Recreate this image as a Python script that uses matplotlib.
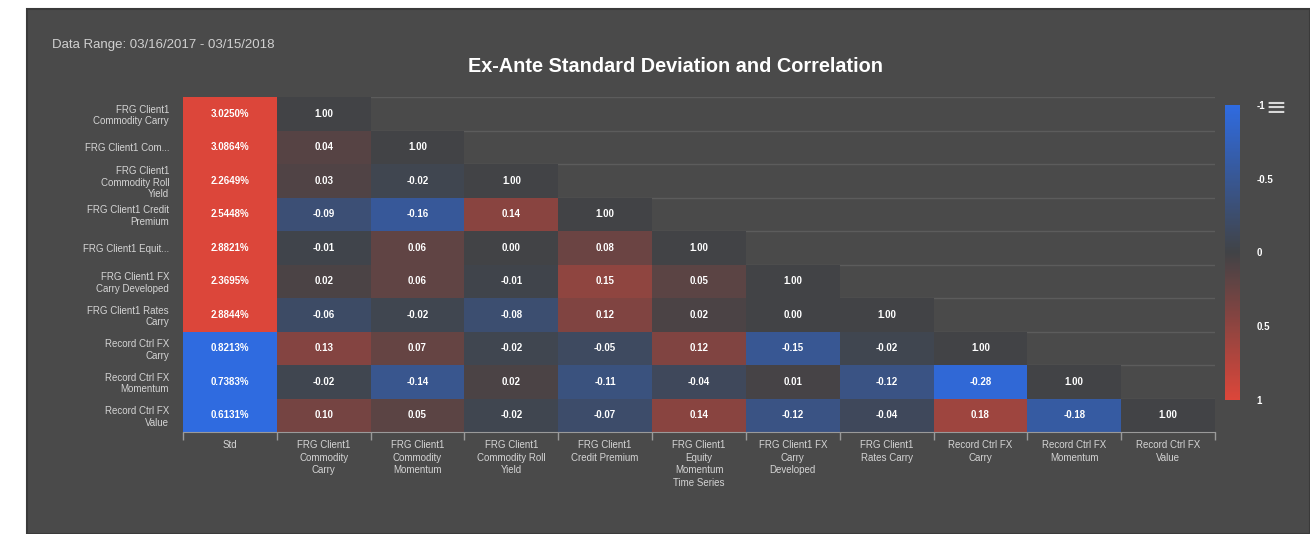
import numpy as np
import matplotlib
matplotlib.use('Agg')
import matplotlib.pyplot as plt
from matplotlib.colors import LinearSegmentedColormap, Normalize, TwoSlopeNorm
from matplotlib.cm import ScalarMappable
from matplotlib.patches import Rectangle

plt.rcParams['font.family'] = ['Liberation Sans', 'DejaVu Sans']

# Row labels (as truncated / wrapped in the chart)
row_labels = [
    "FRG Client1\nCommodity Carry",
    "FRG Client1 Com...",
    "FRG Client1\nCommodity Roll\nYield",
    "FRG Client1 Credit\nPremium",
    "FRG Client1 Equit...",
    "FRG Client1 FX\nCarry Developed",
    "FRG Client1 Rates\nCarry",
    "Record Ctrl FX\nCarry",
    "Record Ctrl FX\nMomentum",
    "Record Ctrl FX\nValue",
]

col_labels = [
    "Std",
    "FRG Client1\nCommodity\nCarry",
    "FRG Client1\nCommodity\nMomentum",
    "FRG Client1\nCommodity Roll\nYield",
    "FRG Client1\nCredit Premium",
    "FRG Client1\nEquity\nMomentum\nTime Series",
    "FRG Client1 FX\nCarry\nDeveloped",
    "FRG Client1\nRates Carry",
    "Record Ctrl FX\nCarry",
    "Record Ctrl FX\nMomentum",
    "Record Ctrl FX\nValue",
]

# ex-ante std, in percent
std_values = [3.0250, 3.0864, 2.2649, 2.5448, 2.8821, 2.3695, 2.8844, 0.8213, 0.7383, 0.6131]

# lower triangle of the correlation matrix, row by row
corr_rows = [
    [1.00],
    [0.04, 1.00],
    [0.03, -0.02, 1.00],
    [-0.09, -0.16, 0.14, 1.00],
    [-0.01, 0.06, 0.00, 0.08, 1.00],
    [0.02, 0.06, -0.01, 0.15, 0.05, 1.00],
    [-0.06, -0.02, -0.08, 0.12, 0.02, 0.00, 1.00],
    [0.13, 0.07, -0.02, -0.05, 0.12, -0.15, -0.02, 1.00],
    [-0.02, -0.14, 0.02, -0.11, -0.04, 0.01, -0.12, -0.28, 1.00],
    [0.10, 0.05, -0.02, -0.07, 0.14, -0.12, -0.04, 0.18, -0.18, 1.00],
]

cbar_ticks = [-1, -0.5, 0, 0.5, 1]

# --- styling
W, H = 1310, 534
panel = '#4a4a4a'
cmap = LinearSegmentedColormap.from_list('bgr', ['#2f6be0', '#414346', '#dc463a'])
cmap.set_bad((0, 0, 0, 0))

n = len(row_labels)
corr = np.full((n, n), np.nan)
for i, r in enumerate(corr_rows):
    corr[i, :len(r)] = r
# diagonal is not coloured in the original
corr_col = np.where(np.eye(n, dtype=bool), 0.0, corr)
corr_col = np.ma.masked_invalid(corr_col)

fig = plt.figure(figsize=(W / 100, H / 100), dpi=100, facecolor='white')
bg = Rectangle((27 / W, 0), 1 - 27 / W, 1 - 9 / H, transform=fig.transFigure,
               facecolor=panel, edgecolor='#3a3a3a', lw=1.5, zorder=-10)
fig.patches.append(bg)

ax = fig.add_axes([183 / W, 1 - 432 / H, (1215 - 183) / W, (432 - 97) / H], zorder=2)
ax.patch.set_alpha(0)

# faint grid lines behind the cells
for y in range(n + 1):
    ax.axhline(y, color='#5c5c5c', lw=1, zorder=0)

std_norm = TwoSlopeNorm(vcenter=1.5, vmin=0.9, vmax=2.1)
std_arr = np.array(std_values)[:, None]
ax.pcolormesh(np.arange(0, 2), np.arange(n + 1), std_arr, cmap=cmap, norm=std_norm, zorder=1)

corr_norm = Normalize(-0.3, 0.3)
ax.pcolormesh(np.arange(1, n + 2), np.arange(n + 1), corr_col, cmap=cmap, norm=corr_norm, zorder=1)

for i, v in enumerate(std_values):
    ax.text(0.5, i + 0.5, f"{v:.4f}%", ha='center', va='center', color='white',
            fontsize=7, fontweight='bold', zorder=3)
for i, r in enumerate(corr_rows):
    for j, v in enumerate(r):
        ax.text(j + 1.5, i + 0.5, f"{v:.2f}", ha='center', va='center', color='white',
                fontsize=7, fontweight='bold', zorder=3)

ax.set_xlim(0, n + 1)
ax.set_ylim(n, 0)
ax.set_yticks(np.arange(n) + 0.5)
ax.set_yticklabels(row_labels, fontsize=7, color='#d4d4d4', linespacing=1.2)
ax.tick_params(axis='y', length=0, pad=10)
ax.set_xticks(np.arange(n + 1) + 0.5)
ax.set_xticklabels(col_labels, fontsize=7, color='#d4d4d4', linespacing=1.3)
ax.set_xticks(np.arange(n + 2), minor=True)
ax.tick_params(axis='x', which='major', length=0, pad=6)
ax.tick_params(axis='x', which='minor', length=6, color='#9a9a9a', width=1)
for s in ['top', 'right', 'left']:
    ax.spines[s].set_visible(False)
ax.spines['bottom'].set_color('#9a9a9a')

# colour scale
cax = fig.add_axes([1225 / W, 1 - 400 / H, 15 / W, 295 / H], zorder=2)
cb = fig.colorbar(ScalarMappable(norm=Normalize(-1, 1), cmap=cmap), cax=cax)
cax.invert_yaxis()
cb.set_ticks(cbar_ticks)
cb.set_ticklabels(['-1', '-0.5', '0', '0.5', '1'])
cb.outline.set_visible(False)
cax.tick_params(length=0, pad=12, labelsize=7, labelcolor='white')
for t in cax.get_yticklabels():
    t.set_fontweight('bold')

fig.text(52 / W, 1 - 45 / H, "Data Range: 03/16/2017 - 03/15/2018", fontsize=9.5,
         color='#d0d0d0', va='center', zorder=3)
fig.text(676 / W, 1 - 66 / H, "Ex-Ante Standard Deviation and Correlation", fontsize=14.3,
         fontweight='bold', color='white', ha='center', va='center', zorder=3)
fig.text(1276 / W, 1 - 108 / H, "\u2261", fontsize=18, color='#d8d8d8', ha='center',
         va='center', zorder=3, family='DejaVu Sans')

fig.savefig('out.png', dpi=100, facecolor=fig.get_facecolor())
